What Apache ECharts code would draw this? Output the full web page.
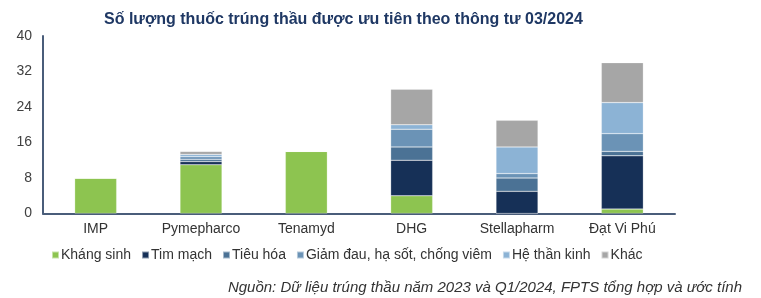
<!DOCTYPE html>
<html><head><meta charset="utf-8">
<script src="https://cdn.jsdelivr.net/npm/echarts@6/dist/echarts.min.js"></script>
<style>html,body{margin:0;padding:0;background:#fff}#c{width:761px;height:298px}</style>
</head><body><div id="c"></div>
<script>
var categories = ['IMP', 'Pymepharco', 'Tenamyd', 'DHG', 'Stellapharm', 'Đạt Vi Phú'];
var khangSinh  = [8, 11, 14, 4, 0, 1];
var timMach    = [0, 0.7, 0, 8, 5, 12];
var tieuHoa    = [0, 0.5, 0, 3, 3, 1];
var giamDau    = [0, 0.6, 0, 4, 1, 4];
var heThanKinh = [0, 0.5, 0, 1, 6, 7];
var khac       = [0, 0.7, 0, 8, 6, 9];
var yTicks = [0, 8, 16, 24, 32, 40];
var seriesNames = ['Kháng sinh', 'Tim mạch', 'Tiêu hóa', 'Giảm đau, hạ sốt, chống viêm', 'Hệ thần kinh', 'Khác'];
var seriesData = [khangSinh, timMach, tieuHoa, giamDau, heThanKinh, khac];
var colors = ['#8dc450', '#163057', '#4b7295', '#6b93b6', '#8cb3d5', '#a6a6a6'];

var font = 'Liberation Sans, Arial, sans-serif';
var chart = echarts.init(document.getElementById('c'), null, {renderer: 'canvas'});
chart.setOption({
  animation: false,
  color: colors,
  title: [{
    text: 'Số lượng thuốc trúng thầu được ưu tiên theo thông tư 03/2024',
    left: 99, top: 7,
    textStyle: {fontFamily: font, fontSize: 16, fontWeight: 'bold', color: '#1f3864'}
  }, {
    text: 'Nguồn: Dữ liệu trúng thầu năm 2023 và Q1/2024, FPTS tổng hợp và ước tính',
    right: 14, top: 275,
    textStyle: {fontFamily: font, fontSize: 15, fontStyle: 'italic', fontWeight: 'normal', color: '#333'}
  }],
  legend: {
    left: 46, top: 243, itemWidth: 7, itemHeight: 7, itemGap: 10,
    icon: 'rect',
    textStyle: {fontFamily: font, fontSize: 14, color: '#333', padding: [0, 0, 0, -3]},
    data: seriesNames
  },
  grid: {left: 43, right: 86, top: 36, bottom: 84.5, containLabel: false},
  xAxis: {
    type: 'category', data: categories,
    axisLine: {lineStyle: {color: '#4a5d7a', width: 2}},
    axisTick: {show: false},
    axisLabel: {fontFamily: font, fontSize: 14, color: '#333', margin: 9}
  },
  yAxis: {
    type: 'value', min: 0, max: 40, interval: 8,
    axisLine: {show: true, lineStyle: {color: '#4a5d7a', width: 2}},
    axisTick: {show: false},
    splitLine: {show: false},
    axisLabel: {fontFamily: font, fontSize: 14, color: '#404040', margin: 11,
      formatter: function (v) { return yTicks.indexOf(v) >= 0 ? String(v) : ''; }}
  },
  series: seriesNames.map(function (n, i) {
    return {
      name: n, type: 'bar', stack: 'total', barWidth: 42,
      data: seriesData[i],
      itemStyle: {borderColor: 'rgba(255,255,255,0.5)', borderWidth: 0.5}
    };
  })
});
</script></body></html>
